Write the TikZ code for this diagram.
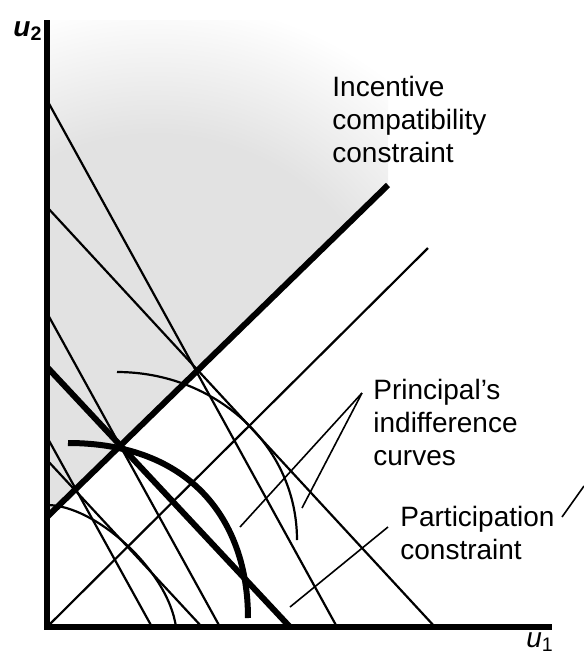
\documentclass[tikz,border=0pt]{standalone}
\usepackage{fontspec}
\setmainfont{Liberation Sans}
\usepackage{tikz}
\usetikzlibrary{positioning}
\definecolor{icgray}{RGB}{226,226,226}
\pgfdeclareradialshading{icfade}{\pgfpoint{0bp}{0bp}}{color(0bp)=(icgray); color(16bp)=(icgray); color(25bp)=(white); color(50bp)=(white)}
\tikzset{
  axisline/.style={line width=3.4pt, color=black},
  heavy/.style={line width=3pt, color=black},
  thinline/.style={line width=1.1pt, color=black},
  leader/.style={line width=0.8pt, color=black},
  lbl/.style={font=\fontsize{14}{16.5}\selectfont, align=left, inner sep=0pt, anchor=north west}
}

\begin{document}
\begin{tikzpicture}[x=0.5pt, y=-0.5pt]
  \useasboundingbox (0,0) rectangle (584,655);
  % Shaded region above the incentive line
  \begin{scope}
    \clip (47,20) -- (47,517) -- (388,185) -- (388,20) -- cycle;
    \shade[shading=icfade] (155,378) circle [radius=380];
  \end{scope}

  % Steep straight lines
  \draw[thinline] (47,100) -- (337,627);
  \draw[thinline] (47,313) -- (220,627);
  \draw[thinline] (47,437) -- (152,627);
  % Flatter straight lines
  \draw[thinline] (47,207) -- (435,627);
  \draw[thinline] (47,460) -- (202,627);
  % 45 degree line from origin
  \draw[thinline] (47,627) -- (428,248);

  % Principal's indifference curves
  \draw[thinline] (117,372) .. controls (215,372) and (297,445) .. (297,540);
  \draw[thinline] (47,505) .. controls (95,505) and (168,570) .. (176,627);
  \draw[heavy] (68,443) .. controls (190,443) and (248,520) .. (248,618);

  % Participation constraint
  \draw[heavy] (47,367) -- (290,627);
  % Incentive compatibility constraint
  \draw[heavy] (47,517) -- (388,185);

  % Axes
  \draw[axisline] (47,20) -- (47,627) -- (552,627);
  \node (u2) at (28,31) {\fontsize{14}{16}\selectfont\bfseries\itshape u\textsubscript{\upshape 2}};
  \node (u1) at (540,642) {\fontsize{14}{16}\selectfont\itshape u\textsubscript{\upshape 1}};

  % Labels
  \node[lbl] (icc) at (332,76) {Incentive\\compatibility\\constraint};
  \node[lbl] (pic) at (373,379) {Principal's\\indifference\\curves};
  \node[lbl] (pc) at (400,506) {Participation\\constraint};

  % Leaders
  \coordinate (pic-tip) at (362,393);
  \coordinate (pic-a) at (240,527);
  \coordinate (pic-b) at (302,508);
  \coordinate (pc-tip) at (388,527);
  \coordinate (pc-a) at (290,607);
  \coordinate (edge-a) at (562,517);
  \coordinate (edge-b) at (584,486);
  \draw[leader] (pic-tip) -- (pic-a);
  \draw[leader] (pic-tip) -- (pic-b);
  \draw[leader] (pc-tip) -- (pc-a);
  \draw[leader] (edge-a) -- (edge-b);
\end{tikzpicture}
\end{document}
